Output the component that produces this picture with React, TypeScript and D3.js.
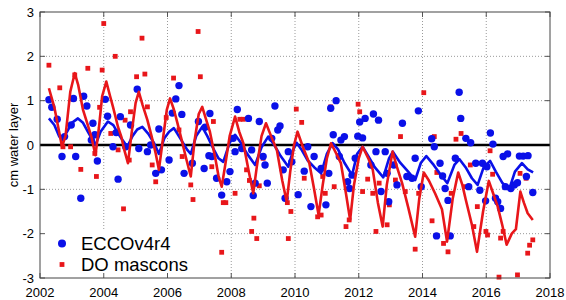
import React from "react";
import * as d3 from "d3";

// ---- Data ----
const yearTicks = [2002, 2004, 2006, 2008, 2010, 2012, 2014, 2016, 2018];
const valueTicks = [-3, -2, -1, 0, 1, 2, 3];
const seriesNames = ["ECCOv4r4", "DO mascons"];

// ECCOv4r4 monthly points [year, cm]
const eccoPoints: [number, number][] = [
  [2002.28, 1.02], [2002.37, 0.85], [2002.54, 0.58], [2002.69, -0.26], [2002.77, 0.19], [2002.98, 0.45],
  [2003.05, 1.05], [2003.12, -0.26], [2003.28, -1.2], [2003.37, 1.1], [2003.47, 0.88], [2003.61, 0.11],
  [2003.66, 0.49], [2003.72, 0.23], [2003.8, -0.36], [2004.05, 1.03], [2004.12, 0.65], [2004.29, -0.04],
  [2004.39, 0.28], [2004.45, -0.77], [2004.52, 0.64], [2004.69, -0.04], [2004.84, 0.45], [2005.05, 1.26],
  [2005.1, -0.08], [2005.37, -0.15], [2005.47, 0.0], [2005.63, -0.64], [2005.73, 0.36], [2005.81, -0.56],
  [2006.05, -0.34], [2006.15, 0.72], [2006.26, 1.04], [2006.36, 1.34], [2006.45, 0.69], [2006.52, -0.64],
  [2006.78, -0.41], [2006.97, 0.53], [2007.15, -0.53], [2007.18, 0.4], [2007.3, -0.24], [2007.33, 0.71],
  [2007.39, -0.26], [2007.54, -0.75], [2007.7, -1.13], [2007.86, -0.83], [2007.96, -0.6], [2008.06, 0.15],
  [2008.12, -0.15], [2008.19, 0.8], [2008.33, -0.08], [2008.54, 0.6], [2008.64, -0.11], [2008.69, -1.14],
  [2008.75, -0.86], [2008.88, 0.53], [2009.0, -0.26], [2009.06, -0.45], [2009.13, -0.86], [2009.27, 0.15],
  [2009.37, 0.88], [2009.46, 0.34], [2009.53, 0.43], [2009.63, -0.56], [2009.69, -1.2], [2009.79, -0.15],
  [2009.9, -0.38], [2010.1, -1.12], [2010.29, -0.59], [2010.4, -0.04], [2010.5, -1.39], [2010.6, -0.26],
  [2010.82, -0.53], [2010.97, -1.35], [2011.06, -0.64], [2011.12, 0.83], [2011.2, 0.23], [2011.29, 1.0],
  [2011.39, -0.26], [2011.44, 0.11], [2011.55, 0.19], [2011.65, -0.83], [2011.71, -0.98], [2011.79, -0.68],
  [2011.89, -0.3], [2011.97, 0.2], [2012.03, 0.52], [2012.12, 0.16], [2012.2, 0.6], [2012.38, -0.45],
  [2012.46, 0.7], [2012.54, -0.15], [2012.62, 0.56], [2012.7, -1.05], [2012.83, -0.15], [2012.89, -0.64],
  [2012.94, -1.28], [2013.1, -0.45], [2013.2, -0.9], [2013.37, 0.49], [2013.51, -0.71], [2013.67, -0.75],
  [2013.77, -0.3], [2013.87, 0.77], [2013.96, -0.94], [2014.29, 0.14], [2014.37, -0.04], [2014.44, -2.05],
  [2014.55, -0.41], [2014.63, -0.7], [2014.71, -0.98], [2014.8, -1.25], [2014.87, -2.05], [2015.03, -0.3],
  [2015.15, 1.19], [2015.2, 0.6], [2015.36, 0.15], [2015.45, -0.94], [2015.51, 0.05], [2015.67, -0.41],
  [2015.8, -1.02], [2015.88, -0.41], [2015.98, -1.26], [2016.02, -0.49], [2016.13, 0.27], [2016.21, 0.02],
  [2016.29, -1.2], [2016.36, -1.28], [2016.45, -1.43], [2016.53, -0.26], [2016.6, -0.94], [2016.67, -0.2],
  [2016.77, -0.98], [2016.88, -0.9], [2016.98, -0.85], [2017.04, -0.25], [2017.16, -0.25], [2017.26, -0.71],
  [2017.31, -0.24], [2017.46, -1.07],
];

// DO mascons monthly points [year, cm]
const doPoints: [number, number][] = [
  [2002.28, 1.8], [2002.39, 0.86], [2002.62, 1.29], [2002.72, -0.04], [2002.96, -0.04], [2003.04, 1.03],
  [2003.09, 1.58], [2003.28, -0.55], [2003.5, 1.73], [2003.72, -0.19], [2003.77, -0.71], [2003.87, 0.85],
  [2003.95, 1.69], [2004.0, 2.74], [2004.22, 0.26], [2004.36, 2.0], [2004.45, -0.11], [2004.62, -1.44],
  [2004.67, 0.56], [2004.8, -0.34], [2004.84, 0.75], [2005.03, 1.54], [2005.2, 2.41], [2005.29, 1.6],
  [2005.37, 0.86], [2005.52, -0.45], [2005.63, -0.83], [2005.96, 0.62], [2006.19, 1.51], [2006.36, 0.34],
  [2006.46, -0.26], [2006.73, -0.9], [2006.8, -1.23], [2006.96, 2.56], [2007.03, 1.54], [2007.39, -0.49],
  [2007.44, 0.53], [2007.7, -2.42], [2007.75, -1.3], [2007.83, -1.3], [2008.12, -1.09], [2008.27, 0.58],
  [2008.38, 0.58], [2008.48, -0.56], [2008.57, -0.8], [2008.64, -1.95], [2008.71, -1.65], [2008.8, -2.11],
  [2008.88, -0.92], [2009.0, -0.3], [2009.76, -1.3], [2009.79, -2.11], [2009.87, -1.5], [2010.04, 0.81],
  [2010.21, 0.51], [2010.29, -0.75], [2010.71, -1.62], [2010.82, -1.58], [2010.87, -0.71], [2010.95, -1.09],
  [2011.12, 0.86], [2011.23, -0.94], [2011.6, -1.84], [2011.7, -1.69], [2011.98, 0.92], [2012.03, 0.75],
  [2012.12, -1.05], [2012.28, -0.77], [2012.44, -1.09], [2012.54, -1.95], [2012.64, -0.86], [2012.89, -1.8],
  [2012.96, -1.35], [2013.15, -0.79], [2013.31, 0.19], [2013.46, -1.05], [2013.77, -2.35], [2013.88, -1.09],
  [2014.04, 1.18], [2014.3, -1.71], [2014.37, 0.19], [2014.45, -0.62], [2014.66, -2.22], [2014.8, -2.41],
  [2014.9, -1.09], [2015.05, 0.13], [2015.21, 0.26], [2015.33, -0.94], [2015.5, -0.45], [2015.61, -1.84],
  [2015.72, -1.39], [2015.99, -1.95], [2016.04, -2.03], [2016.12, -0.13], [2016.2, -0.66], [2016.4, -2.98],
  [2016.45, -2.1], [2016.53, -1.95], [2016.98, -2.93], [2017.06, -0.64], [2017.25, -0.75], [2017.3, -2.44],
  [2017.36, -2.26], [2017.46, -2.14],
];

// Smoothed ECCOv4r4 curve [year, cm]
const eccoSmooth: [number, number][] = [
  [2002.28, 0.6], [2002.45, 0.45], [2002.6, 0.2], [2002.69, 0.11], [2002.85, 0.3], [2003.0, 0.5],
  [2003.19, 0.6], [2003.35, 0.5], [2003.5, 0.3], [2003.62, 0.15], [2003.74, 0.0], [2003.9, 0.3],
  [2004.13, 0.53], [2004.3, 0.45], [2004.45, 0.26], [2004.6, 0.1], [2004.74, -0.04], [2004.9, 0.2],
  [2005.05, 0.35], [2005.21, 0.41], [2005.4, 0.25], [2005.58, 0.04], [2005.73, -0.2], [2005.9, 0.15],
  [2006.05, 0.3], [2006.2, 0.38], [2006.4, 0.15], [2006.62, -0.11], [2006.73, -0.2], [2006.9, 0.2],
  [2007.09, 0.41], [2007.25, 0.2], [2007.45, -0.1], [2007.6, -0.3], [2007.75, -0.38], [2007.95, 0.05],
  [2008.12, 0.23], [2008.3, 0.05], [2008.5, -0.2], [2008.75, -0.45], [2008.95, -0.05], [2009.16, 0.19],
  [2009.35, 0.0], [2009.55, -0.25], [2009.79, -0.49], [2009.95, -0.1], [2010.05, 0.05], [2010.2, -0.1],
  [2010.4, -0.35], [2010.6, -0.5], [2010.82, -0.64], [2011.0, -0.2], [2011.18, 0.04], [2011.35, -0.1],
  [2011.55, -0.4], [2011.79, -0.68], [2011.95, -0.2], [2012.12, -0.04], [2012.3, -0.25], [2012.5, -0.5],
  [2012.77, -0.73], [2012.95, -0.3], [2013.07, -0.15], [2013.3, -0.4], [2013.55, -0.6], [2013.77, -0.79],
  [2013.95, -0.4], [2014.12, -0.25], [2014.35, -0.45], [2014.6, -0.7], [2014.78, -0.86], [2015.0, -0.45],
  [2015.16, -0.32], [2015.35, -0.5], [2015.55, -0.75], [2015.73, -0.9], [2015.92, -0.5], [2016.12, -0.36],
  [2016.3, -0.6], [2016.5, -0.85], [2016.72, -1.0], [2016.9, -0.6], [2017.12, -0.41], [2017.3, -0.55],
  [2017.47, -0.62],
];

// Smoothed DO mascons curve [year, cm]
const doSmooth: [number, number][] = [
  [2002.28, 1.28], [2002.45, 0.85], [2002.6, 0.3], [2002.69, -0.04], [2002.8, 0.2], [2002.95, 1.2],
  [2003.09, 1.62], [2003.2, 1.35], [2003.35, 0.79], [2003.5, 0.45], [2003.61, 0.19], [2003.74, -0.23],
  [2003.85, 0.4], [2003.95, 1.1], [2004.08, 1.43], [2004.2, 1.1], [2004.29, 0.86], [2004.45, 0.4],
  [2004.55, 0.19], [2004.64, -0.1], [2004.76, -0.41], [2004.88, 0.3], [2005.0, 0.95], [2005.1, 1.2],
  [2005.22, 0.9], [2005.37, 0.56], [2005.5, 0.2], [2005.63, -0.19], [2005.73, -0.56], [2005.85, 0.1],
  [2005.98, 0.8], [2006.08, 1.05], [2006.2, 0.8], [2006.31, 0.5], [2006.45, 0.1], [2006.57, -0.26],
  [2006.73, -0.71], [2006.85, 0.1], [2006.98, 0.7], [2007.09, 0.86], [2007.2, 0.6], [2007.33, 0.3],
  [2007.5, -0.3], [2007.6, -0.7], [2007.7, -0.94], [2007.8, -0.5], [2007.95, 0.2], [2008.12, 0.64],
  [2008.25, 0.3], [2008.38, 0.04], [2008.55, -0.6], [2008.69, -1.09], [2008.8, -0.5], [2008.95, 0.2],
  [2009.09, 0.49], [2009.25, 0.2], [2009.43, -0.11], [2009.6, -0.8], [2009.74, -1.28], [2009.85, -0.6],
  [2009.97, 0.0], [2010.08, 0.3], [2010.25, -0.05], [2010.45, -0.41], [2010.6, -1.0], [2010.74, -1.58],
  [2010.87, -0.9], [2011.0, -0.3], [2011.13, 0.04], [2011.3, -0.2], [2011.44, -0.41], [2011.6, -1.1],
  [2011.73, -1.69], [2011.85, -0.9], [2012.0, -0.3], [2012.12, -0.04], [2012.3, -0.3], [2012.44, -0.56],
  [2012.6, -1.3], [2012.75, -1.84], [2012.88, -0.9], [2013.06, -0.15], [2013.2, -0.5], [2013.36, -0.86],
  [2013.55, -1.4], [2013.77, -2.07], [2013.9, -1.2], [2014.04, -0.62], [2014.2, -0.8], [2014.4, -1.1],
  [2014.61, -1.45], [2014.77, -2.18], [2014.95, -1.2], [2015.12, -0.62], [2015.25, -0.9], [2015.36, -1.24],
  [2015.55, -1.8], [2015.71, -2.41], [2015.9, -1.5], [2016.08, -0.81], [2016.22, -1.1], [2016.36, -1.39],
  [2016.5, -1.8], [2016.64, -2.25], [2016.8, -2.0], [2016.93, -1.9], [2017.07, -1.05], [2017.18, -1.3],
  [2017.3, -1.54], [2017.46, -1.69],
];

const BLUE = "#0a10e8";
const RED = "#e8161a";
const FONT = "'Liberation Sans', Arial, Helvetica, sans-serif";

export default function App() {
  const W = 566, H = 300;
  const left = 40, right = 550, top = 12, bottom = 278;
  const x = d3.scaleLinear().domain([2002, 2018]).range([left, right]);
  const y = d3.scaleLinear().domain([-3, 3]).range([bottom, top]);
  const line = d3.line<[number, number]>().x(d => x(d[0])).y(d => y(d[1]));
  const sq = 4.8;
  const r = 3.7;
  const tickLen = 5;

  return (
    <svg width={W} height={H} style={{ position: "absolute", left: 0, top: 0, background: "#fff" }}>
      <rect x={0} y={0} width={W} height={H} fill="#fff" />
      {/* grid */}
      {yearTicks.filter(t => t > 2002 && t < 2018).map(t => (
        <line key={"gx" + t} x1={x(t)} x2={x(t)} y1={top} y2={bottom} stroke="#9a9a9a" strokeWidth={1} strokeDasharray="1,2" />
      ))}
      {valueTicks.filter(v => v !== 0 && Math.abs(v) < 3).map(v => (
        <line key={"gy" + v} x1={left} x2={right} y1={y(v)} y2={y(v)} stroke="#9a9a9a" strokeWidth={1} strokeDasharray="1,2" />
      ))}
      {/* legend background */}
      <rect x={left + 1} y={229} width={170} height={bottom - 229 - 1} fill="#fff" />
      {/* ticks */}
      {valueTicks.map(v => (
        <g key={"ty" + v}>
          <line x1={left} x2={left + tickLen} y1={y(v)} y2={y(v)} stroke="#555" />
          <line x1={right - tickLen} x2={right} y1={y(v)} y2={y(v)} stroke="#555" />
        </g>
      ))}
      {yearTicks.map(t => (
        <g key={"tx" + t}>
          <line x1={x(t)} x2={x(t)} y1={bottom} y2={bottom - tickLen} stroke="#555" />
          <line x1={x(t)} x2={x(t)} y1={top} y2={top + tickLen} stroke="#555" />
        </g>
      ))}
      {/* zero line */}
      <line x1={left} x2={right} y1={y(0)} y2={y(0)} stroke="#000" strokeWidth={2.6} />
      {/* DO points */}
      {doPoints.map((d, i) => (
        <rect key={"dp" + i} x={x(d[0]) - sq / 2} y={y(d[1]) - sq / 2} width={sq} height={sq} fill={RED} />
      ))}
      {/* ECCO points */}
      {eccoPoints.map((d, i) => (
        <circle key={"ep" + i} cx={x(d[0])} cy={y(d[1])} r={r} fill={BLUE} />
      ))}
      {/* smooth lines */}
      <path d={line(eccoSmooth) || ""} fill="none" stroke={BLUE} strokeWidth={2.6} strokeLinejoin="round" />
      <path d={line(doSmooth) || ""} fill="none" stroke={RED} strokeWidth={2.6} strokeLinejoin="round" />
      {/* frame */}
      <rect x={left} y={top} width={right - left} height={bottom - top} fill="none" stroke="#444" strokeWidth={1} />
      {/* tick labels */}
      {valueTicks.map(v => (
        <text key={"ly" + v} x={34} y={y(v)} dy="0.36em" textAnchor="end" fontFamily={FONT} fontSize={13} fill="#000">
          {v}
        </text>
      ))}
      {yearTicks.map(t => (
        <text key={"lx" + t} x={x(t)} y={297} textAnchor="middle" fontFamily={FONT} fontSize={13} fill="#000">
          {t}
        </text>
      ))}
      <text transform={`translate(13,${(top + bottom) / 2}) rotate(-90)`} textAnchor="middle" dy="0.35em" fontFamily={FONT} fontSize={13} fill="#000">
        cm water layer
      </text>
      {/* legend */}
      <circle cx={62} cy={243.5} r={r + 0.3} fill={BLUE} />
      <text x={81} y={243.5} dy="0.36em" fontFamily={FONT} fontSize={18.5} fill="#000">{seriesNames[0]}</text>
      <rect x={62 - sq / 2} y={264.5 - sq / 2} width={sq} height={sq} fill={RED} />
      <text x={81} y={264.5} dy="0.36em" fontFamily={FONT} fontSize={18.5} fill="#000">{seriesNames[1]}</text>
    </svg>
  );
}
